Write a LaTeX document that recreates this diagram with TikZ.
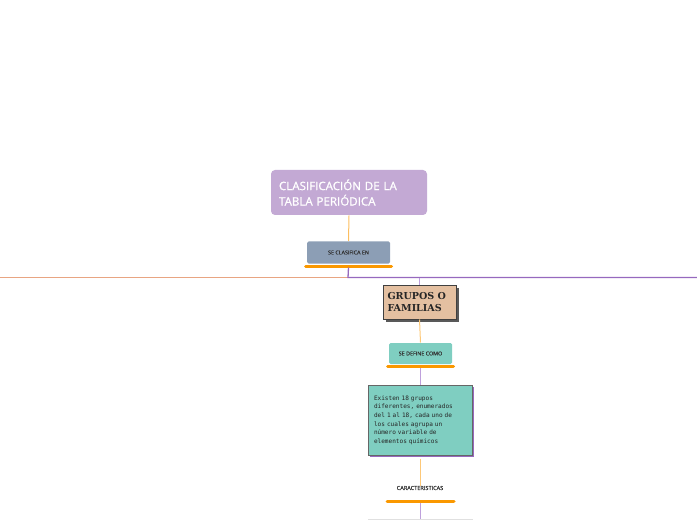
\documentclass[tikz,border=0pt]{standalone}
\usepackage{fontspec}
\setmainfont{Open Sans}
\newfontfamily\headfont[FakeBold=1.2]{Open Sans}
\newfontfamily\linkfont[FakeBold=0.6]{Open Sans}
\newfontfamily\notefont{DejaVu Sans Mono}
\newfontfamily\slabfont{DejaVu Serif}
\usetikzlibrary{shadows}

\definecolor{lavender}{RGB}{195,169,212}
\definecolor{slate}{RGB}{140,158,181}
\definecolor{tan}{RGB}{228,192,161}
\definecolor{teal}{RGB}{127,206,193}
\definecolor{barorange}{RGB}{250,152,0}
\definecolor{ltorange}{RGB}{253,200,120}
\definecolor{salmon}{RGB}{232,165,130}
\definecolor{plum}{RGB}{150,105,190}
\definecolor{ltplum}{RGB}{190,160,220}

\tikzstyle{topic}=[rectangle, rounded corners=4bp, fill=lavender, text=white, minimum width=156bp, minimum height=45bp, align=left, text width=140bp, font=\headfont\fontsize{11.6}{15.5}\selectfont]
\tikzstyle{link}=[rectangle, rounded corners=1.5bp, minimum height=22bp, font=\linkfont\fontsize{5.4}{6}\selectfont, text=black!80]
\tikzstyle{group}=[rectangle, draw=black!75, fill=tan, minimum width=73bp, minimum height=34bp, align=left, text width=64bp, font=\slabfont\bfseries\fontsize{9.6}{12.5}\selectfont, text=black!85, general shadow={shadow xshift=2.5bp, shadow yshift=-2.5bp, fill=black!65}]
\tikzstyle{note}=[rectangle, draw=black!60, fill=teal, minimum width=104bp, minimum height=70bp, align=left, text width=92bp, font=\notefont\fontsize{6.1}{8.7}\selectfont, text=black!85, general shadow={shadow xshift=2bp, shadow yshift=-2bp, fill=plum}]
\tikzstyle{uline}=[draw=barorange, line width=3bp, line cap=round]

\begin{document}
\begin{tikzpicture}[x=1bp, y=-1bp, line width=1bp]
\useasboundingbox (0,0) rectangle (697,520);
\node[topic] (main) at (349,192.5) {CLASIFICACIÓN DE LA\\TABLA PERIÓDICA};
\node[link, fill=slate, minimum width=83bp] (clas) at (348.5,252.5) {SE CLASIFICA EN};
\coordinate (hub) at (348,277.5);
\coordinate (left) at (0,277.5);
\coordinate (right) at (697,277.5);
\node[group] (grupos) at (419.5,302) {GRUPOS O\\FAMILIAS};
\node[link, fill=teal, minimum width=63bp, minimum height=21bp] (define) at (420.5,353.5) {SE DEFINE COMO};
\node[note] (texto) at (420,420) {Existen 18 grupos\\diferentes, enumerados\\del 1 al 18, cada uno de\\los cuales agrupa un\\número variable de\\elementos químicos};
\node[font=\linkfont\fontsize{5.6}{6}\selectfont, text=black!80] (carac) at (420,488) {CARACTERISTICAS};
\node[rectangle, draw=black!12, fill=white, minimum width=104bp, minimum height=40bp] (sig) at (420,539) {};

% conectores
\draw[ltorange!80!barorange] (main.south) -- (clas.north);
\draw[uline] ([xshift=-1bp,yshift=-2bp]clas.south west) -- ([xshift=1bp,yshift=-2bp]clas.south east);
\draw[salmon, line width=1.4bp] (left) -- (hub);
\draw[plum, line width=1.3bp] ([yshift=-3.5bp]clas.south) -- (hub) -- (right);
\draw[ltplum] (grupos.north |- hub) -- (grupos.north);
\draw[ltorange] (grupos.south) -- (define.north);
\draw[uline] ([xshift=-1bp,yshift=-2bp]define.south west) -- ([xshift=1bp,yshift=-2bp]define.south east);
\draw[ltplum] ([yshift=-3.5bp]define.south -| texto.north) -- (texto.north);
\draw[ltorange] ([yshift=-3bp]texto.south) -- ([yshift=-4bp]carac.north);
\draw[uline] ([xshift=-33bp,yshift=-13bp]carac.center) -- ([xshift=34bp,yshift=-13bp]carac.center);
\draw[ltplum] ([yshift=-14.5bp]carac.center) -- (sig.north);
\end{tikzpicture}
\end{document}
